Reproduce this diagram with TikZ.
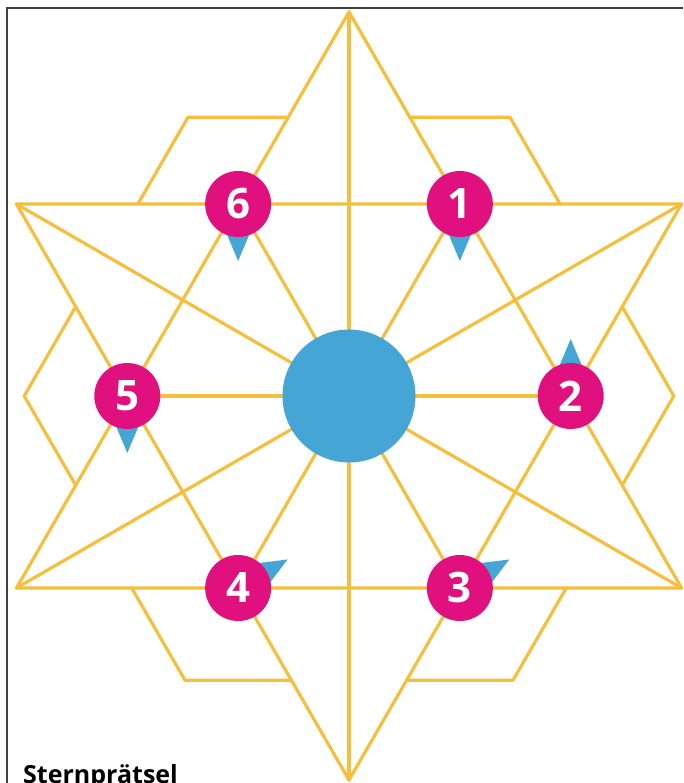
\documentclass[tikz,border=0pt]{standalone}
\usepackage{fontspec}
\setmainfont{Open Sans}
\usetikzlibrary{calc}
\definecolor{starY}{HTML}{F5BF3C}
\definecolor{pinM}{HTML}{E0107F}
\definecolor{hubB}{HTML}{45A6D5}
\begin{document}
\begin{tikzpicture}[x=1pt,y=1pt,
  star/.style={draw=starY,line width=3.2pt,line join=round,line cap=round},
  pin/.style={circle,fill=pinM,minimum size=66pt,inner sep=0pt,text=white,
    font=\fontsize{42}{42}\selectfont\bfseries},
  hub/.style={circle,fill=hubB,minimum size=133pt,inner sep=0pt},
  tail/.style={fill=hubB},
  frame/.style={draw=black!75,line width=1.1pt}]
\useasboundingbox (0,0) rectangle (683,783);
\clip (0,0) rectangle (683,783);
\coordinate (C) at (349,387);
\foreach \a/\n in {90/o1,30/o2,-30/o3,-90/o4,-150/o5,150/o6}
  \coordinate (\n) at ($(C)+(\a:384)$);
\foreach \a/\n in {60/n1,0/n2,-60/n3,-120/n4,180/n5,120/n6}
  \coordinate (\n) at ($(C)+(\a:221.7)$);
% frame
\draw[frame] (7,0) -- (7,775) -- (683,775);
% hexagram
\draw[star] (o1) -- (o3) -- (o5) -- cycle;
\draw[star] (o2) -- (o4) -- (o6) -- cycle;
% long lines
\draw[star] (o1) -- (o4);
\draw[star] (o2) -- (o5);
\draw[star] (o3) -- (o6);
% spokes
\draw[star] (n5) -- (n2);
\foreach \n in {n1,n3,n4,n6} \draw[star] (C) -- (\n);
% parallelograms
\foreach \n/\A/\B/\f in {n1/o1/o2/0.452,n2/o2/o3/0.465,n3/o3/o4/0.48,n4/o4/o5/0.48,n5/o5/o6/0.465,n6/o6/o1/0.452}{
  \pgfmathsetmacro{\ff}{2*\f}
  \draw[star] ($(\n)!\f!(\A)$) -- ($(\n)+\f*(\A)+\f*(\B)-\ff*(\n)$) -- ($(\n)!\f!(\B)$);
}
% tails
\foreach \n/\t in {n1/-90,n2/90,n3/30,n4/30,n5/-90,n6/-90}{
  \pgfmathsetmacro{\ta}{\t+27}
  \pgfmathsetmacro{\tb}{\t-27}
  \fill[tail] ($(\n)+(\t:57)$) -- ($(\n)+(\ta:29)$) -- ($(\n)+(\tb:29)$) -- cycle;
}
% pins
\node[pin] (p1) at (n1) {1};
\node[pin] (p2) at (n2) {2};
\node[pin] (p3) at (n3) {3};
\node[pin] (p4) at (n4) {4};
\node[pin] (p5) at (n5) {5};
\node[pin] (p6) at (n6) {6};
\node[hub] (center) at (C) {};
% title
\node[anchor=base west,inner sep=0pt,font=\fontsize{25}{25}\selectfont\bfseries] (title) at (23,-1) {Sternprätsel};
\end{tikzpicture}
\end{document}
